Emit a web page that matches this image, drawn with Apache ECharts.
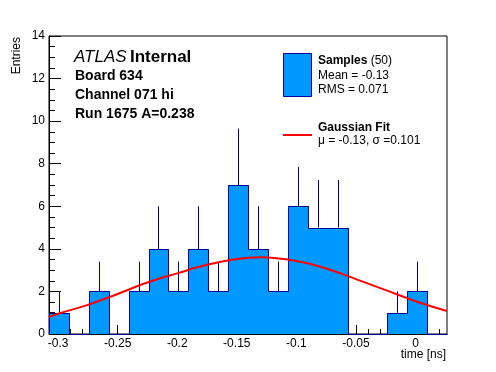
<!DOCTYPE html>
<html><head><meta charset="utf-8">
<script src="https://cdn.jsdelivr.net/npm/echarts@6/dist/echarts.min.js"></script>
<style>html,body{margin:0;padding:0;background:#fff}#c{width:496px;height:372px}</style>
</head><body><div id="c"></div>
<script>
// ---- data ----
const binEdges = [-0.3076, -0.2909, -0.2742, -0.2575, -0.2408, -0.2241, -0.2074, -0.1907, -0.1740, -0.1573,
                  -0.1406, -0.1239, -0.1072, -0.0905, -0.0738, -0.0571, -0.0404, -0.0237, -0.0070, 0.0097, 0.0264];
const binCounts = [1, 0, 2, 0, 2, 4, 2, 4, 2, 7, 4, 2, 6, 5, 5, 0, 0, 1, 2, 0];
const errorTops = [2, 0, 3.4, 0, 3.4, 6, 3.4, 6, 3.4, 9.65, 6, 3.4, 7.85, 7.24, 7.24, 0, 0, 2, 3.4, 0];
const fitX = [-0.3076, -0.3, -0.275, -0.25, -0.225, -0.2, -0.175, -0.15, -0.13, -0.1, -0.075, -0.05, -0.025, 0, 0.0264];
const fitY = [0.80, 0.95, 1.37, 1.88, 2.42, 2.85, 3.25, 3.52, 3.60, 3.43, 3.08, 2.58, 2.06, 1.54, 1.08];
const xMajorTicks = [-0.3, -0.25, -0.2, -0.15, -0.1, -0.05, 0];
const xMinorTicks = [-0.3, -0.29, -0.28, -0.27, -0.26, -0.25, -0.24, -0.23, -0.22, -0.21, -0.2, -0.19, -0.18, -0.17, -0.16,
                     -0.15, -0.14, -0.13, -0.12, -0.11, -0.1, -0.09, -0.08, -0.07, -0.06, -0.05, -0.04, -0.03, -0.02, -0.01, 0, 0.01, 0.02];
const xRange = [-0.3076, 0.0264];
const yRange = [0, 14];
const xTitle = 'time [ns]';
const yTitle = 'Entries';
const infoLines = ['Board 634', 'Channel 071 hi', 'Run 1675 A=0.238'];
const legendSamples = ['Samples', '(50)', 'Mean = -0.13', 'RMS = 0.071'];
const legendFit = ['Gaussian Fit', 'μ = -0.13, σ =0.101'];

// ---- chart ----
const FONT = '"Liberation Sans", Arial, Helvetica, sans-serif';
const FILL = '#0099ff', EDGE = '#000099';

const fillData = binCounts.map((c, i) => [binEdges[i], binEdges[i + 1], c]);
const outlineData = binCounts.map((c, i) => [binEdges[i], binEdges[i + 1], c, i > 0 ? binCounts[i - 1] : 0, i === binCounts.length - 1 ? 1 : 0]);
const errData = binCounts.map((c, i) => [(binEdges[i] + binEdges[i + 1]) / 2, c, errorTops[i]]);
const fitData = fitX.map((x, i) => [x, fitY[i]]);

const chart = echarts.init(document.getElementById('c'), null, {renderer: 'canvas'});
chart.setOption({
  animation: false,
  backgroundColor: '#fff',
  grid: {left: 49, right: 49, top: 36, bottom: 38, show: true, borderColor: '#000', borderWidth: 1, backgroundColor: 'transparent'},
  xAxis: [{
    type: 'value', min: xRange[0], max: xRange[1], position: 'bottom',
    axisLine: {show: true, onZero: false, lineStyle: {color: '#000', width: 1}},
    axisTick: {show: true, inside: true, length: 9, customValues: xMajorTicks, lineStyle: {color: '#000'}},
    axisLabel: {show: true, customValues: xMajorTicks, margin: 4, color: '#000', fontFamily: FONT, fontSize: 12,
                formatter: v => String(Math.round(v * 100) / 100)},
    splitLine: {show: false}
  }, {
    type: 'value', min: xRange[0], max: xRange[1], position: 'bottom',
    axisLine: {show: false},
    axisTick: {show: true, inside: true, length: 5, customValues: xMinorTicks, lineStyle: {color: '#000'}},
    axisLabel: {show: false},
    splitLine: {show: false}
  }],
  yAxis: {
    type: 'value', min: yRange[0], max: yRange[1], interval: 2,
    axisLine: {show: true, onZero: false, lineStyle: {color: '#000', width: 1}},
    axisTick: {show: true, inside: true, length: 12, lineStyle: {color: '#000'}},
    minorTick: {show: true, splitNumber: 4, length: 6, lineStyle: {color: '#000'}},
    axisLabel: {margin: 4, color: '#000', fontFamily: FONT, fontSize: 12, padding: [4, 0, 0, 0]},
    splitLine: {show: false}
  },
  series: [{
    type: 'custom', name: 'fill', z: 1, data: fillData, encode: {x: [0, 1], y: 2},
    renderItem: (params, api) => {
      const lo = api.value(0), hi = api.value(1), c = api.value(2);
      if (!c) return null;
      const p0 = api.coord([lo, c]), p1 = api.coord([hi, 0]);
      const x0 = Math.round(p0[0]), y0 = Math.round(p0[1]), x1 = Math.round(p1[0]), y1 = Math.round(p1[1]);
      return {type: 'rect', shape: {x: x0, y: y0, width: x1 - x0 + 1, height: y1 - y0}, style: {fill: FILL}};
    }
  }, {
    type: 'custom', name: 'errors', z: 2, data: errData, encode: {x: 0, y: [1, 2]},
    renderItem: (params, api) => {
      const x = api.value(0), c = api.value(1), t = api.value(2);
      if (!(t > c)) return null;
      const a = api.coord([x, c]), b = api.coord([x, t]);
      const xx = Math.round(a[0]) + 0.5;
      return {type: 'line', shape: {x1: xx, y1: a[1], x2: xx, y2: b[1]}, style: {stroke: EDGE, lineWidth: 1}};
    }
  }, {
    type: 'custom', name: 'outline', z: 3, data: outlineData, encode: {x: [0, 1], y: [2, 3]},
    renderItem: (params, api) => {
      const lo = api.value(0), hi = api.value(1), c = api.value(2), prev = api.value(3), last = api.value(4);
      const pts = [api.coord([lo, prev]), api.coord([lo, c]), api.coord([hi, c])];
      if (last) pts.push(api.coord([hi, 0]));
      return {type: 'polyline', shape: {points: pts.map(p => [Math.round(p[0]) + 0.5, Math.round(p[1]) + 0.5])},
              style: {stroke: EDGE, lineWidth: 1, fill: null}};
    }
  }, {
    type: 'line', name: 'Gaussian Fit', z: 4, data: fitData, smooth: 0.4, showSymbol: false,
    lineStyle: {color: '#ff0000', width: 2}, itemStyle: {color: '#ff0000'}
  }],
  graphic: [
    {type: 'text', x: 17, y: 37, rotation: Math.PI / 2,
     style: {text: yTitle, align: 'right', verticalAlign: 'middle', font: '12px ' + FONT, fill: '#000'}},
    {type: 'text', x: 446, y: 355,
     style: {text: xTitle, align: 'right', verticalAlign: 'middle', font: '12px ' + FONT, fill: '#000'}},
    {type: 'text', x: 74, y: 57,
     style: {text: '{a|ATLAS} {b|Internal}', verticalAlign: 'middle',
             rich: {a: {fontFamily: FONT, fontSize: 17, fontStyle: 'italic', fill: '#000'},
                    b: {fontFamily: FONT, fontSize: 17, fontWeight: 'bold', fill: '#000'}}}},
    {type: 'text', x: 75, y: 76, style: {text: infoLines[0], verticalAlign: 'middle', font: 'bold 14px ' + FONT, fill: '#000'}},
    {type: 'text', x: 75, y: 95, style: {text: infoLines[1], verticalAlign: 'middle', font: 'bold 14px ' + FONT, fill: '#000'}},
    {type: 'text', x: 75, y: 114, style: {text: infoLines[2], verticalAlign: 'middle', font: 'bold 14px ' + FONT, fill: '#000'}},
    // legend
    {type: 'rect', shape: {x: 283.5, y: 53.5, width: 28, height: 43}, style: {fill: FILL, stroke: EDGE, lineWidth: 1}},
    {type: 'text', x: 318, y: 61,
     style: {text: '{b|' + legendSamples[0] + '} {r|' + legendSamples[1] + '}', verticalAlign: 'middle',
             rich: {b: {fontFamily: FONT, fontSize: 12, fontWeight: 'bold', fill: '#000'},
                    r: {fontFamily: FONT, fontSize: 12, fill: '#000'}}}},
    {type: 'text', x: 318, y: 76, style: {text: legendSamples[2], verticalAlign: 'middle', font: '12px ' + FONT, fill: '#000'}},
    {type: 'text', x: 318, y: 90, style: {text: legendSamples[3], verticalAlign: 'middle', font: '12px ' + FONT, fill: '#000'}},
    {type: 'line', shape: {x1: 283, y1: 135, x2: 312, y2: 135}, style: {stroke: '#ff0000', lineWidth: 2}},
    {type: 'text', x: 318, y: 128, style: {text: legendFit[0], verticalAlign: 'middle', font: 'bold 12px ' + FONT, fill: '#000'}},
    {type: 'text', x: 318, y: 141, style: {text: legendFit[1], verticalAlign: 'middle', font: '12px ' + FONT, fill: '#000'}}
  ]
});
</script></body></html>
